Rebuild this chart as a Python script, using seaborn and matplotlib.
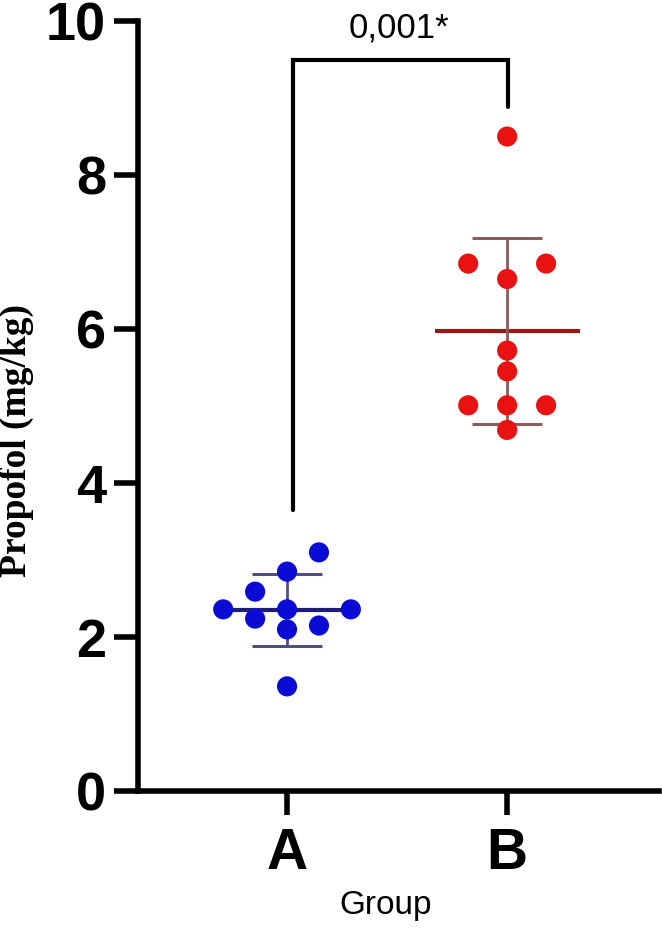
import numpy as np
import pandas as pd
import matplotlib
matplotlib.use('Agg')
import matplotlib.pyplot as plt
import seaborn as sns

# values (Propofol, mg/kg), in the order they get placed
groups = ['A', 'B']
group_a = [2.36, 2.15, 2.24, 2.36, 2.36, 2.10, 2.85, 3.10, 2.59, 1.36]
group_b = [8.50, 6.65, 6.85, 6.85, 5.72, 5.45, 5.01, 5.01, 5.01, 4.69]
y_ticks = [0, 2, 4, 6, 8, 10]
p_text = '0,001*'

point_colors = {'A': '#0b0bd6', 'B': '#e81212'}
mean_colors = {'A': '#1e1e78', 'B': '#9c1616'}
sd_colors = {'A': '#4e4e82', 'B': '#8a5c5c'}
slot_step = {'A': 0.145, 'B': 0.177}   # horizontal spacing of the scatter columns
min_gap = 0.255                         # vertical room one dot needs


def spread(values, step):
    # GraphPad-like scatter: centre first, then alternate sides on collision
    placed = []
    side = 1
    for v in values:
        k = 0
        while True:
            cands = [0] if k == 0 else [side * k, -side * k]
            slot = next((c for c in cands
                         if all(abs(v - pv) >= min_gap for pc, pv in placed if pc == c)),
                        None)
            if slot is not None:
                break
            k += 1
        if slot != 0:
            side = -side
        placed.append((slot, v))
    return [s * step for s, _ in placed]


rows = []
for i, (g, vals) in enumerate(zip(groups, [group_a, group_b])):
    for off, v in zip(spread(vals, slot_step[g]), vals):
        rows.append({'group': g, 'value': v, 'x': i + off})
df = pd.DataFrame(rows)

sns.set_style('ticks')
plt.rcParams['font.family'] = ['Liberation Sans', 'DejaVu Sans']
plt.rcParams['text.color'] = 'black'
plt.rcParams['axes.labelcolor'] = 'black'
plt.rcParams['xtick.color'] = 'black'
plt.rcParams['ytick.color'] = 'black'

fig = plt.figure(figsize=(6.62, 9.34), dpi=100)
ax = fig.add_axes([0.2085, 0.153, 0.787, 0.8245])

sns.scatterplot(data=df, x='x', y='value', hue='group', palette=point_colors,
                s=14.5 ** 2, linewidth=0, legend=False, ax=ax, zorder=5)

# mean and SD
stats = df.groupby('group')['value'].agg(['mean', 'std'])
for i, g in enumerate(groups):
    m, sd = stats.loc[g, 'mean'], stats.loc[g, 'std']
    ax.hlines(m, i - 0.33, i + 0.33, color=mean_colors[g], lw=3, zorder=3)
    ax.vlines(i, m - sd, m + sd, color=sd_colors[g], lw=2, zorder=3)
    ax.hlines([m - sd, m + sd], i - 0.16, i + 0.16, color=sd_colors[g], lw=2.2, zorder=3)

# significance bracket
ax.plot([0.027, 0.027, 1.005, 1.005], [3.65, 9.49, 9.49, 8.88],
        color='black', lw=3, clip_on=False, solid_joinstyle='miter')
ax.text(0.51, 9.79, p_text, ha='center', va='baseline', fontsize=25)

ax.set_xlim(-0.677, 1.69)
ax.set_ylim(0, 10)
ax.set_yticks(y_ticks)
ax.set_yticklabels([str(t) for t in y_ticks], fontsize=39, fontweight='bold')
ax.set_xticks(range(len(groups)))
ax.set_xticklabels(groups, fontsize=41, fontweight='bold')
ax.tick_params(axis='both', length=17, width=4, color='black')
ax.tick_params(axis='y', pad=6)
ax.tick_params(axis='x', pad=9)

for side in ['top', 'right']:
    ax.spines[side].set_visible(False)
for side in ['left', 'bottom']:
    ax.spines[side].set_linewidth(4)
    ax.spines[side].set_color('black')
ax.spines['bottom'].set_capstyle('projecting')

ax.set_ylabel('Propofol (mg/kg)', fontsize=27, fontweight='bold',
              family=['Liberation Serif', 'DejaVu Serif'])
ax.yaxis.set_label_coords(-0.20, 0.455)
ax.set_xlabel('Group', fontsize=24)
ax.xaxis.set_label_coords(0.476, -0.128)
ax.xaxis.label.set_va('top')

fig.savefig('out.png', dpi=100)
